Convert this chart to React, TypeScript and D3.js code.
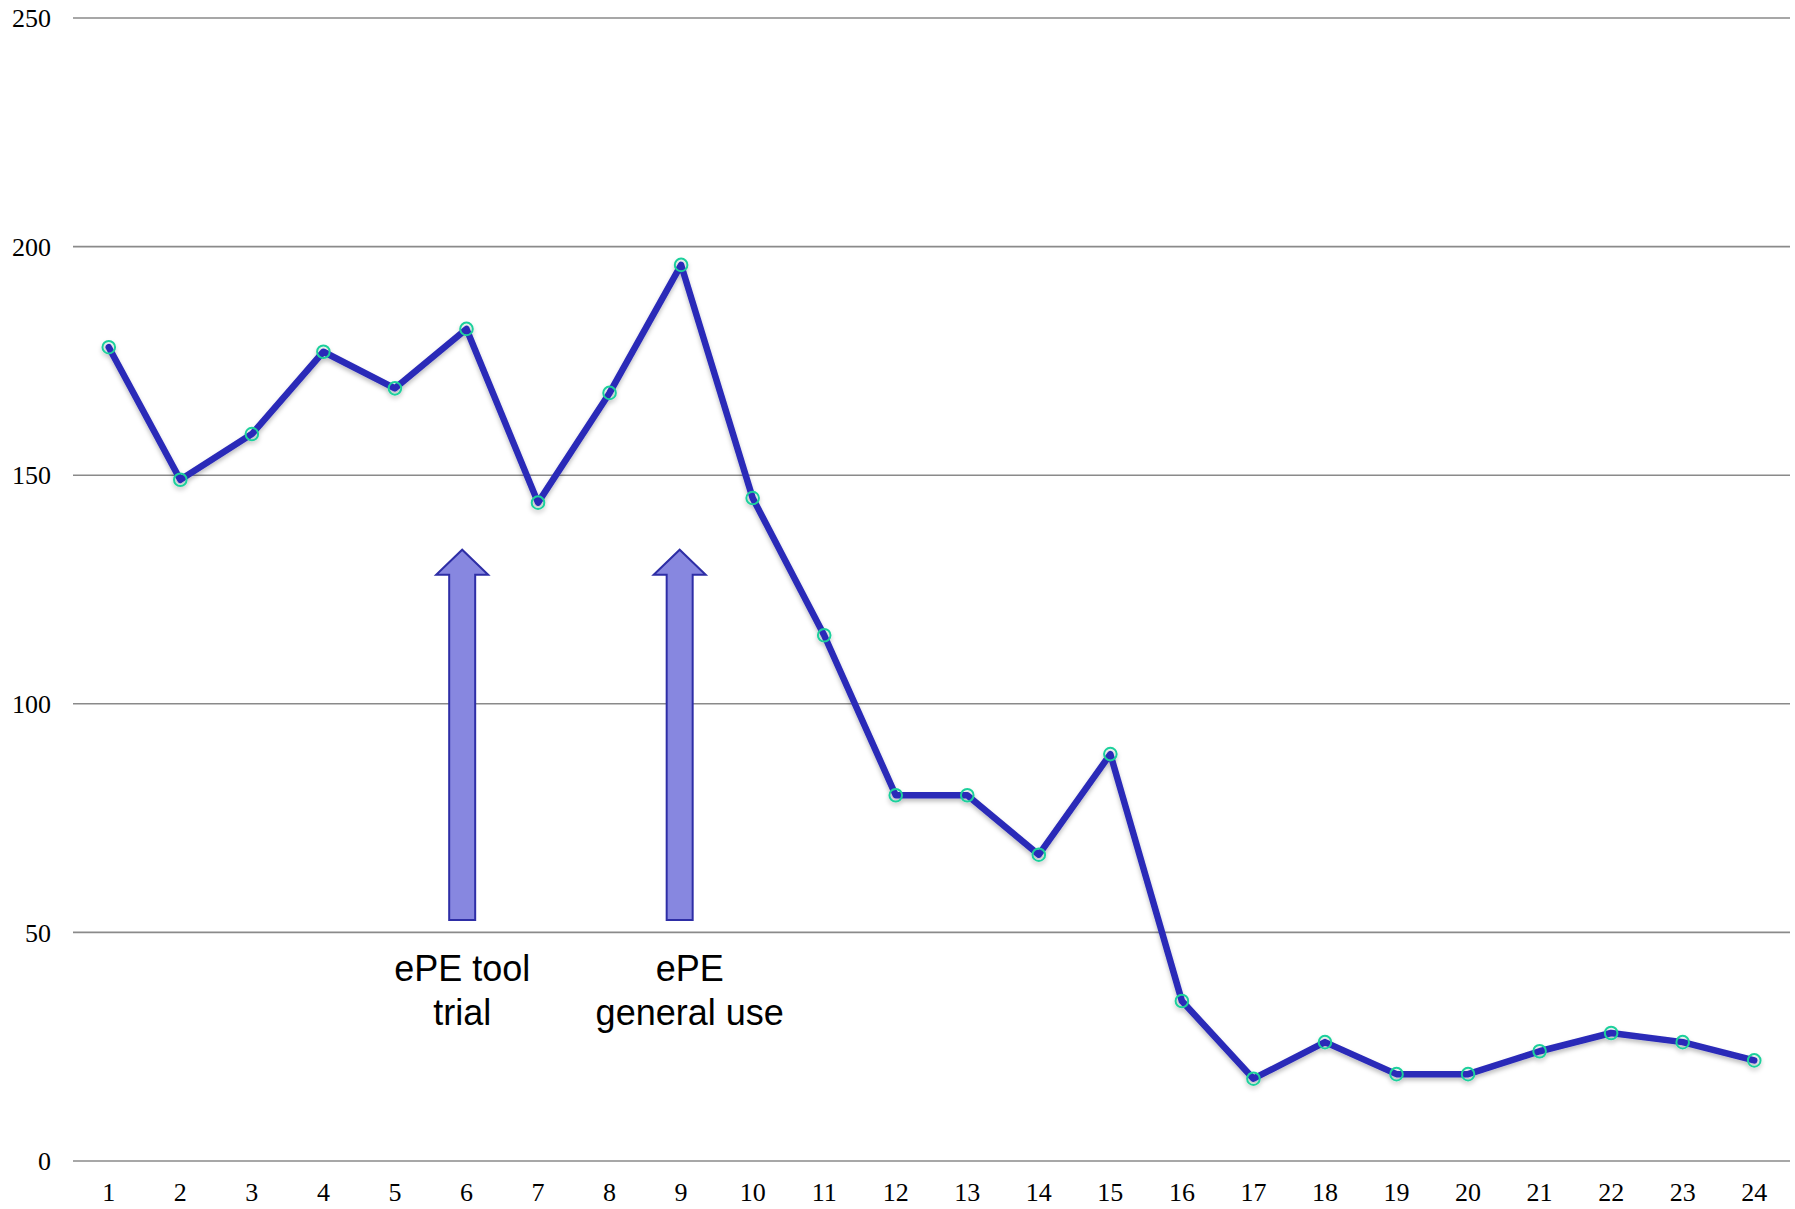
import React from "react";
import * as d3 from "d3";

const categories = Array.from({ length: 24 }, (_, i) => String(i + 1));
const values = [178, 149, 159, 177, 169, 182, 144, 168, 196, 145, 115, 80, 80, 67, 89, 35, 18, 26, 19, 19, 24, 28, 26, 22];
const yTicks = [0, 50, 100, 150, 200, 250];
// annotations: x position in category units (1-based), shaft bottom value, head base value, tip value
const arrowX = [5.94, 8.98];
const arrowBottom = 52.7;
const arrowHeadBase = 128.2;
const arrowTip = 133.7;
const annotationLines = [["ePE tool", "trial"], ["ePE", "general use"]];
const annotationTextX = [5.94, 9.12];

const W = 1795;
const H = 1209;
const left = 73;
const right = 1790;
const top = 18;
const bottom = 1161;

export default function App() {
  const x = d3.scaleBand<string>().domain(categories).range([left, right]).padding(0);
  const xc = (c: string) => (x(c) as number) + x.bandwidth() / 2;
  const xNum = (v: number) => left + (v - 0.5) * x.bandwidth();
  const y = d3.scaleLinear().domain([0, 250]).range([bottom, top]);

  const line = d3
    .line<number>()
    .x((_, i) => xc(categories[i]))
    .y((d) => y(d));

  const headHalf = 26;
  const shaftHalf = 13;

  return (
    <svg width={W} height={H} style={{ position: "absolute", left: 0, top: 0, background: "#fff" }}>
      <defs>
        <filter id="sh" x="-10%" y="-10%" width="120%" height="130%">
          <feDropShadow dx="0" dy="3" stdDeviation="2" floodColor="#000" floodOpacity="0.25" />
        </filter>
      </defs>
      {yTicks.map((t) => (
        <g key={t}>
          <line x1={left} x2={right} y1={y(t)} y2={y(t)} stroke="#8a8a8a" strokeWidth={1.6} />
          <text
            x={51}
            y={y(t)}
            dy="0.35em"
            textAnchor="end"
            fontFamily="'Liberation Serif', 'Times New Roman', serif"
            fontSize={26}
            fill="#000"
          >
            {t}
          </text>
        </g>
      ))}
      {categories.map((c) => (
        <text
          key={c}
          x={xc(c)}
          y={1201}
          textAnchor="middle"
          fontFamily="'Liberation Serif', 'Times New Roman', serif"
          fontSize={26}
          fill="#000"
        >
          {c}
        </text>
      ))}
      {arrowX.map((ax, i) => {
        const cx = xNum(ax);
        const d = [
          [cx - shaftHalf, y(arrowBottom)],
          [cx - shaftHalf, y(arrowHeadBase)],
          [cx - headHalf, y(arrowHeadBase)],
          [cx, y(arrowTip)],
          [cx + headHalf, y(arrowHeadBase)],
          [cx + shaftHalf, y(arrowHeadBase)],
          [cx + shaftHalf, y(arrowBottom)],
        ];
        return (
          <path
            key={i}
            d={"M" + d.map((p) => p.join(",")).join("L") + "Z"}
            fill="#8787e0"
            stroke="#2e2ea6"
            strokeWidth={2}
          />
        );
      })}
      {annotationLines.map((lines, i) => (
        <text
          key={i}
          textAnchor="middle"
          fontFamily="'Liberation Sans', Arial, sans-serif"
          fontSize={36}
          fill="#000"
        >
          {lines.map((l, j) => (
            <tspan key={j} x={xNum(annotationTextX[i])} y={981 + j * 44}>
              {l}
            </tspan>
          ))}
        </text>
      ))}
      <g filter="url(#sh)">
        <path d={line(values) as string} fill="none" stroke="#2a2ab8" strokeWidth={6.5} strokeLinejoin="round" strokeLinecap="round" />
        {values.map((v, i) => (
          <circle key={i} cx={xc(categories[i])} cy={y(v)} r={6.3} fill="none" stroke="#1fd09c" strokeWidth={2} />
        ))}
      </g>
    </svg>
  );
}
